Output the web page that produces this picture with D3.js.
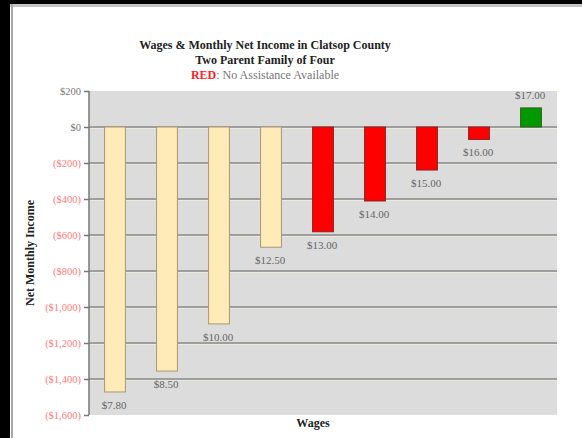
<!DOCTYPE html>
<html>
<head>
<meta charset="utf-8">
<script src="https://d3js.org/d3.v7.min.js"></script>
<style>
  body { margin: 0; background: #fff; }
  svg { display: block; }
  text { font-family: "Liberation Serif", "DejaVu Serif", serif; }
</style>
</head>
<body>
<div id="chart"></div>
<script>
// wage levels and net monthly income
var wages = ["$7.80", "$8.50", "$10.00", "$12.50", "$13.00", "$14.00", "$15.00", "$16.00", "$17.00"];
var netIncome = [-1472, -1356, -1094, -668, -582, -411, -239, -69, 106];
var assistance = ["yes", "yes", "yes", "yes", "no", "no", "no", "no", "positive"];
var yTicks = [200, 0, -200, -400, -600, -800, -1000, -1200, -1400, -1600];

var svgWidth = 582, svgHeight = 438;
var margin = {top: 91, right: 25, bottom: 23, left: 89};
var width = 557 - margin.left;
var height = 415 - margin.top;

var svg = d3.select("#chart").append("svg")
    .attr("width", svgWidth)
    .attr("height", svgHeight);

// black frame bits from the screenshot
svg.append("rect").attr("x", 0).attr("y", 0).attr("width", svgWidth).attr("height", 4).attr("fill", "#000");
svg.append("rect").attr("x", 0).attr("y", 0).attr("width", 10).attr("height", svgHeight).attr("fill", "#000");
svg.append("rect").attr("x", 10).attr("y", 4).attr("width", svgWidth - 10).attr("height", 3).attr("fill", "#c4c4c4");
svg.append("rect").attr("x", 11).attr("y", 4).attr("width", 2).attr("height", svgHeight).attr("fill", "#a8a8a8");

// titles
svg.append("text").attr("x", 265).attr("y", 49).attr("text-anchor", "middle")
    .attr("font-size", 12).attr("font-weight", "bold").attr("fill", "#222")
    .text("Wages & Monthly Net Income in Clatsop County");
svg.append("text").attr("x", 265).attr("y", 64).attr("text-anchor", "middle")
    .attr("font-size", 12).attr("font-weight", "bold").attr("fill", "#222")
    .text("Two Parent Family of Four");
var sub = svg.append("text").attr("x", 265).attr("y", 79).attr("text-anchor", "middle")
    .attr("font-size", 12);
sub.append("tspan").attr("fill", "#ff2020").attr("font-weight", "bold").text("RED");
sub.append("tspan").attr("fill", "#777").text(": No Assistance Available");

var chartGroup = svg.append("g")
    .attr("transform", `translate(${margin.left}, ${margin.top})`);

var xScale = d3.scaleBand().domain(wages).range([0, width]).paddingInner(0.6).paddingOuter(0.3);
var yScale = d3.scaleLinear().domain([-1600, 200]).range([height, 0]);

// plot background
chartGroup.append("rect")
    .attr("x", 0).attr("y", 0).attr("width", width).attr("height", height)
    .attr("fill", "#dcdcdc");

// gridlines (dark line with a pale line under it)
chartGroup.selectAll(".grid")
    .data(yTicks.filter(d => d < 200 && d > -1600))
    .enter().append("line")
    .attr("x1", 0).attr("x2", width)
    .attr("y1", d => yScale(d)).attr("y2", d => yScale(d))
    .attr("stroke", "#8a8a8a").attr("stroke-width", 1.5);
chartGroup.selectAll(".grid2")
    .data(yTicks.filter(d => d < 200 && d > -1600))
    .enter().append("line")
    .attr("x1", 0).attr("x2", width)
    .attr("y1", d => yScale(d) + 1.5).attr("y2", d => yScale(d) + 1.5)
    .attr("stroke", "#eeeedd").attr("stroke-width", 0.8);

// bars
function barFill(a) {
    if (a == "yes") return "#ffebb8";
    if (a == "no") return "#ff0000";
    return "#009900";
}
function barStroke(a) {
    if (a == "yes") return "#a89870";
    if (a == "no") return "#8a2020";
    return "#355a20";
}
chartGroup.selectAll(".bar")
    .data(wages)
    .enter().append("rect")
    .attr("x", d => xScale(d))
    .attr("width", xScale.bandwidth())
    .attr("y", (d, i) => yScale(Math.max(0, netIncome[i])))
    .attr("height", (d, i) => Math.abs(yScale(netIncome[i]) - yScale(0)))
    .attr("fill", (d, i) => barFill(assistance[i]))
    .attr("stroke", (d, i) => barStroke(assistance[i]))
    .attr("stroke-width", 1);

// bar labels
chartGroup.selectAll(".lbl")
    .data(wages)
    .enter().append("text")
    .attr("x", d => xScale(d) + xScale.bandwidth() / 2 - 1)
    .attr("y", (d, i) => netIncome[i] < 0 ? yScale(netIncome[i]) + 17 : yScale(netIncome[i]) - 9)
    .attr("text-anchor", "middle")
    .attr("font-size", 11)
    .attr("fill", "#666")
    .text(d => d);

// y axis
var fmt = d => d < 0 ? "($" + d3.format(",")(-d) + ")" : "$" + d3.format(",")(d);
var leftAxis = d3.axisLeft(yScale).tickValues(yTicks).tickSize(5).tickFormat(fmt);
var yAxis = chartGroup.append("g").call(leftAxis);
yAxis.select(".domain").attr("stroke", "#777").attr("stroke-width", 1.5).attr("d", `M0,0V${height}`);
yAxis.selectAll(".tick line").attr("stroke", "#777").attr("stroke-width", 1.5);
yAxis.selectAll(".tick text")
    .attr("font-family", "Liberation Serif, serif")
    .attr("font-size", 10.5)
    .attr("x", -8)
    .attr("fill", d => d < 0 ? "#ff7a7a" : "#777");

// axis titles
svg.append("text")
    .attr("transform", "translate(34, 253) rotate(-90)")
    .attr("text-anchor", "middle")
    .attr("font-size", 12).attr("font-weight", "bold").attr("fill", "#222")
    .text("Net Monthly Income");
svg.append("text")
    .attr("x", 313).attr("y", 427)
    .attr("text-anchor", "middle")
    .attr("font-size", 12).attr("font-weight", "bold").attr("fill", "#222")
    .text("Wages");
</script>
</body>
</html>
